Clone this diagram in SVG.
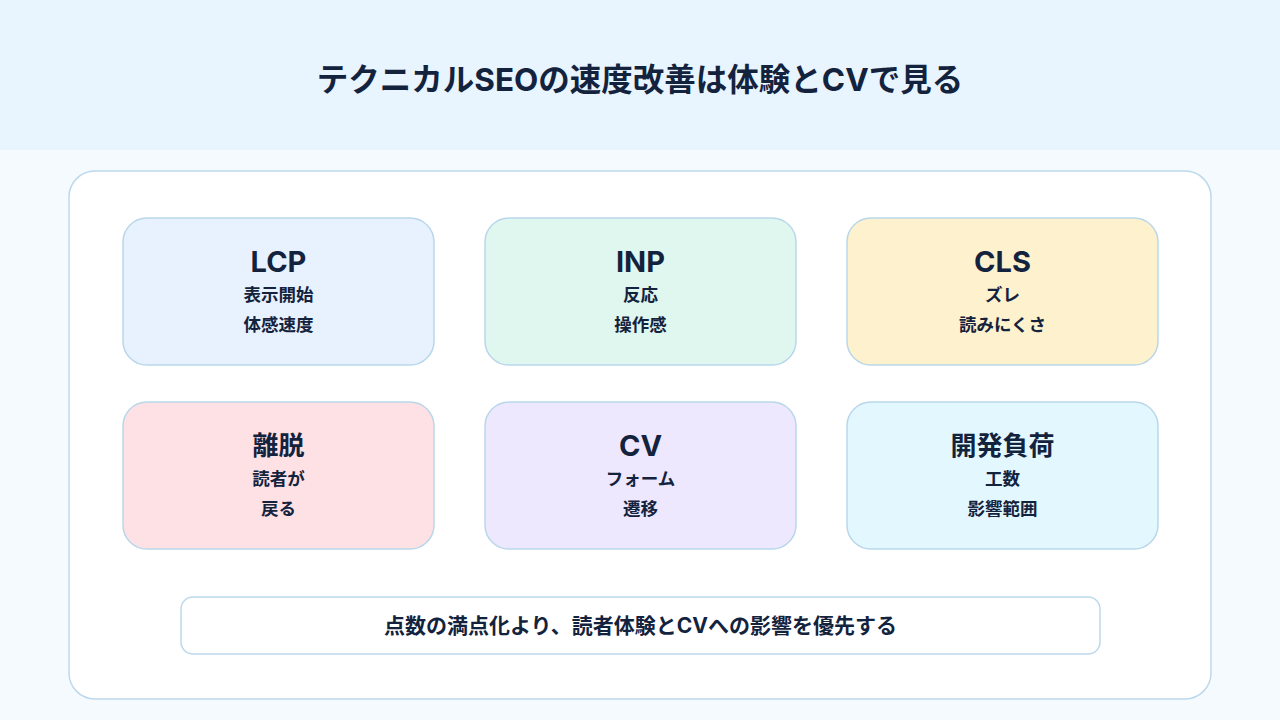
<svg xmlns="http://www.w3.org/2000/svg" width="1280" height="720" viewBox="0 0 1280 720">
<style>
text{font-family:Inter,"Noto Sans CJK JP",sans-serif;fill:#14233d;font-weight:700;text-anchor:middle}
.card{stroke:#b9d7ea;stroke-width:1.5}
.h{font-size:29px}
.hj{font-size:26px}
.s{font-size:17.5px}
</style>
<rect x="0" y="0" width="1280" height="720" fill="#f5fafe"/>
<rect x="0" y="0" width="1280" height="150" fill="#e8f4fe"/>
<text x="640" y="91" style="font-size:31.5px">テクニカルSEOの速度改善は体験とCVで見る</text>
<rect id="panel" x="69" y="171" width="1142" height="528" rx="26" fill="#ffffff" stroke="#bcd9ec" stroke-width="1.5"/>
<g id="lcp"><rect class="card" x="123" y="218" width="311" height="147" rx="24" fill="#e8f2fe"/><text class="h" x="278.5" y="272">LCP</text><text class="s" x="278.5" y="301">表示開始</text><text class="s" x="278.5" y="331">体感速度</text></g>
<g id="inp"><rect class="card" x="485" y="218" width="311" height="147" rx="24" fill="#e0f7f0"/><text class="h" x="640.5" y="272">INP</text><text class="s" x="640.5" y="301">反応</text><text class="s" x="640.5" y="331">操作感</text></g>
<g id="cls"><rect class="card" x="847" y="218" width="311" height="147" rx="24" fill="#fef1cd"/><text class="h" x="1002.5" y="272">CLS</text><text class="s" x="1002.5" y="301">ズレ</text><text class="s" x="1002.5" y="331">読みにくさ</text></g>
<g id="bounce"><rect class="card" x="123" y="402" width="311" height="147" rx="24" fill="#fee1e5"/><text class="hj" x="278.5" y="455">離脱</text><text class="s" x="278.5" y="485">読者が</text><text class="s" x="278.5" y="515">戻る</text></g>
<g id="cv"><rect class="card" x="485" y="402" width="311" height="147" rx="24" fill="#ede8fe"/><text class="h" x="640.5" y="456">CV</text><text class="s" x="640.5" y="485">フォーム</text><text class="s" x="640.5" y="515">遷移</text></g>
<g id="dev"><rect class="card" x="847" y="402" width="311" height="147" rx="24" fill="#e3f8fe"/><text class="hj" x="1002.5" y="455">開発負荷</text><text class="s" x="1002.5" y="485">工数</text><text class="s" x="1002.5" y="515">影響範囲</text></g>
<g id="note"><rect x="181" y="597" width="919" height="57" rx="12" fill="#ffffff" stroke="#bcd9ec" stroke-width="1.5"/><text x="640.5" y="633" style="font-size:21px">点数の満点化より、読者体験とCVへの影響を優先する</text></g>
<g id="connectors"/>
</svg>
